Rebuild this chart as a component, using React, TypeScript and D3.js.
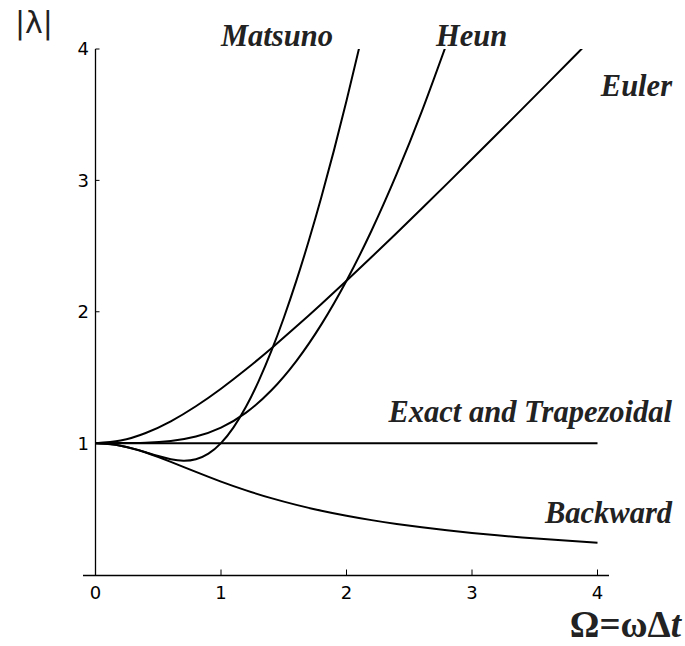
import React from "react";
import * as d3 from "d3";

const W = 685;
const H = 646;

const xTicks = [0, 1, 2, 3, 4];
const yTicks = [1, 2, 3, 4];

const eulerX = [0, 0.2, 0.4, 0.6, 0.8, 1.0, 1.2, 1.4, 1.6, 1.8, 2.0, 2.2, 2.4, 2.6, 2.8, 3.0, 3.2, 3.4, 3.6, 3.8, 4.0];
const eulerY = [1, 1.0198, 1.077, 1.1662, 1.2806, 1.4142, 1.562, 1.7205, 1.8868, 2.0591, 2.2361, 2.4166, 2.6, 2.7857, 2.9732, 3.1623, 3.3526, 3.544, 3.7363, 3.9294, 4.1231];

const backwardX = eulerX;
const backwardY = [1, 0.9806, 0.9285, 0.8575, 0.7809, 0.7071, 0.6402, 0.5812, 0.53, 0.4856, 0.4472, 0.4138, 0.3846, 0.359, 0.3363, 0.3162, 0.2983, 0.2822, 0.2676, 0.2545, 0.2425];

const matsunoX = [0, 0.1, 0.2, 0.3, 0.4, 0.5, 0.6, 0.7, 0.8, 0.9, 1.0, 1.1, 1.2, 1.3, 1.4, 1.5, 1.6, 1.7, 1.8, 1.9, 2.0, 2.1, 2.2];
const matsunoY = [1, 0.995, 0.9806, 0.9582, 0.9304, 0.9014, 0.8773, 0.8661, 0.8773, 0.9198, 1, 1.1199, 1.2781, 1.4718, 1.6975, 1.9526, 2.2346, 2.5421, 2.8736, 3.2283, 3.6056, 4.0048, 4.4256];

const heunX = [0, 0.2, 0.4, 0.6, 0.8, 1.0, 1.2, 1.4, 1.6, 1.8, 2.0, 2.2, 2.4, 2.6, 2.8];
const heunY = [1, 1.0002, 1.0032, 1.0161, 1.05, 1.118, 1.2322, 1.4001, 1.6243, 1.9038, 2.2361, 2.6185, 3.0487, 3.5248, 4.0456];

const exactX = [0, 4];
const exactY = [1, 1];

const seriesList = [
  { name: "Euler", xs: eulerX, ys: eulerY },
  { name: "Backward", xs: backwardX, ys: backwardY },
  { name: "Matsuno", xs: matsunoX, ys: matsunoY },
  { name: "Heun", xs: heunX, ys: heunY },
  { name: "Exact and Trapezoidal", xs: exactX, ys: exactY },
];

export default function App() {
  const x = d3.scaleLinear().domain([0, 4]).range([95.5, 597.5]);
  const y = d3.scaleLinear().domain([0, 4]).range([574.5, 49]);

  const line = d3
    .line<[number, number]>()
    .x((d) => x(d[0]))
    .y((d) => y(d[1]))
    .curve(d3.curveNatural);

  const labelFont = "'Liberation Serif', 'Times New Roman', serif";
  const tickFont = "'DejaVu Sans', sans-serif";
  const axisY = 575.5;

  return (
    <svg
      width={W}
      height={H}
      style={{ position: "absolute", left: 0, top: 0, background: "#fff" }}
    >
      <defs>
        <clipPath id="plotclip">
          <rect x={x(0) - 2} y={y(4)} width={x(4) - x(0) + 4} height={y(0) - y(4) + 2} />
        </clipPath>
      </defs>

      {/* axes */}
      <line x1={83} x2={609} y1={axisY} y2={axisY} stroke="#000" strokeWidth={1.3} />
      <line x1={x(0)} x2={x(0)} y1={y(4)} y2={axisY} stroke="#000" strokeWidth={1.3} />

      {xTicks.map((t) => (
        <g key={"xt" + t}>
          {t > 0 && (
            <line x1={x(t)} x2={x(t)} y1={axisY} y2={axisY - 6} stroke="#000" strokeWidth={1} />
          )}
          <text
            x={x(t)}
            y={599}
            textAnchor="middle"
            fontFamily={tickFont}
            fontSize={18}
            fill="#000"
          >
            {t}
          </text>
        </g>
      ))}

      {yTicks.map((t) => (
        <g key={"yt" + t}>
          <line x1={x(0)} x2={x(0) + 4} y1={y(t)} y2={y(t)} stroke="#000" strokeWidth={1} />
          <text
            x={89}
            y={y(t)}
            dy="0.36em"
            textAnchor="end"
            fontFamily={tickFont}
            fontSize={18}
            fill="#000"
          >
            {t}
          </text>
        </g>
      ))}

      {/* curves */}
      <g clipPath="url(#plotclip)">
        {seriesList.map((s) => {
          const pts = s.xs.map((v, i) => [v, s.ys[i]] as [number, number]);
          return (
            <path
              key={s.name}
              d={line(pts) || ""}
              fill="none"
              stroke="#000"
              strokeWidth={2}
            />
          );
        })}
      </g>

      {/* curve labels */}
      <g fontFamily={labelFont} fontWeight="bold" fontStyle="italic" fontSize={30.5} fill="#222">
        <text x={221} y={46}>Matsuno</text>
        <text x={436} y={46}>Heun</text>
        <text x={672} y={96} textAnchor="end">Euler</text>
        <text x={672} y={422} textAnchor="end">Exact and Trapezoidal</text>
        <text x={672} y={523} textAnchor="end">Backward</text>
      </g>

      {/* axis titles */}
      <text x={15} y={33} fontFamily={tickFont} fontSize={30} fill="#222">
        |λ|
      </text>
      <text
        x={681}
        y={637}
        textAnchor="end"
        fontFamily={labelFont}
        fontWeight="bold"
        fontSize={37}
        fill="#222"
      >
        Ω=ωΔ<tspan fontStyle="italic">t</tspan>
      </text>
    </svg>
  );
}
